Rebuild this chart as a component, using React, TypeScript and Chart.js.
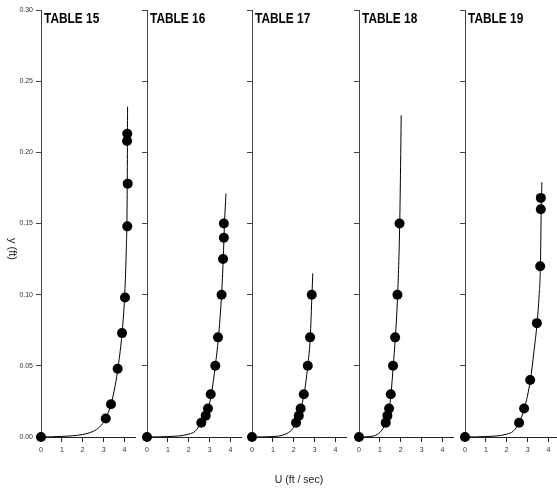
import React, { useEffect, useRef } from "react";
import { Chart, registerables } from "chart.js";

Chart.register(...registerables);

const X_TICKS = [0, 1, 2, 3, 4];
const Y_TICKS = [0, 0.05, 0.1, 0.15, 0.2, 0.25, 0.3];
const TITLES = ["TABLE 15", "TABLE 16", "TABLE 17", "TABLE 18", "TABLE 19"];

// measured points (U ft/sec, y ft)
const P15_U = [0, 3.1, 3.35, 3.67, 3.88, 4.02, 4.13, 4.15, 4.12, 4.13];
const P15_Y = [0, 0.013, 0.023, 0.048, 0.073, 0.098, 0.148, 0.178, 0.208, 0.213];
const P16_U = [0, 2.6, 2.81, 2.92, 3.05, 3.27, 3.4, 3.57, 3.64, 3.68, 3.68];
const P16_Y = [0, 0.01, 0.015, 0.02, 0.03, 0.05, 0.07, 0.1, 0.125, 0.14, 0.15];
const P17_U = [0, 2.11, 2.24, 2.33, 2.48, 2.67, 2.78, 2.86];
const P17_Y = [0, 0.01, 0.015, 0.02, 0.03, 0.05, 0.07, 0.1];
const P18_U = [0, 1.28, 1.36, 1.44, 1.52, 1.63, 1.73, 1.84, 1.94];
const P18_Y = [0, 0.01, 0.015, 0.02, 0.03, 0.05, 0.07, 0.1, 0.15];
const P19_U = [0, 2.59, 2.83, 3.12, 3.44, 3.6, 3.63, 3.63];
const P19_Y = [0, 0.01, 0.02, 0.04, 0.08, 0.12, 0.16, 0.168];

// fitted curves
const C15_U = [0, 1, 2, 2.5, 2.8, 3.1, 3.35, 3.55, 3.7, 3.88, 4.0, 4.08, 4.12, 4.135, 4.145];
const C15_Y = [0, 0.0004, 0.0018, 0.004, 0.007, 0.013, 0.023, 0.036, 0.05, 0.073, 0.098, 0.13, 0.16, 0.195, 0.232];
const C16_U = [0, 1, 2, 2.3, 2.6, 2.81, 2.95, 3.08, 3.27, 3.42, 3.57, 3.65, 3.71, 3.78];
const C16_Y = [0, 0.0003, 0.002, 0.004, 0.01, 0.015, 0.021, 0.03, 0.05, 0.07, 0.1, 0.125, 0.15, 0.171];
const C17_U = [0, 1, 1.6, 1.9, 2.11, 2.24, 2.34, 2.49, 2.67, 2.79, 2.87, 2.91];
const C17_Y = [0, 0.0003, 0.002, 0.005, 0.01, 0.015, 0.02, 0.03, 0.05, 0.07, 0.1, 0.115];
const C18_U = [0, 0.5, 0.9, 1.1, 1.28, 1.37, 1.45, 1.53, 1.64, 1.74, 1.85, 1.95, 1.99, 2.02];
const C18_Y = [0, 0.0003, 0.002, 0.005, 0.01, 0.015, 0.02, 0.03, 0.05, 0.07, 0.1, 0.15, 0.19, 0.226];
const C19_U = [0, 1, 2, 2.3, 2.59, 2.84, 3.13, 3.3, 3.45, 3.55, 3.61, 3.65, 3.68];
const C19_Y = [0, 0.0003, 0.002, 0.004, 0.01, 0.02, 0.04, 0.06, 0.08, 0.1, 0.12, 0.16, 0.179];

const PANELS = [
  { pu: P15_U, py: P15_Y, cu: C15_U, cy: C15_Y },
  { pu: P16_U, py: P16_Y, cu: C16_U, cy: C16_Y },
  { pu: P17_U, py: P17_Y, cu: C17_U, cy: C17_Y },
  { pu: P18_U, py: P18_Y, cu: C18_U, cy: C18_Y },
  { pu: P19_U, py: P19_Y, cu: C19_U, cy: C19_Y },
];

const AXIS_X = [41, 147, 252, 359, 465];
const Y_AXIS_W = 40;
const CANVAS_W = 142;
const CANVAS_H = 488;
const X_AXIS_H = 51;

const zip = (a: number[], b: number[]) => a.map((v, i) => ({ x: v, y: b[i] }));

export default function App() {
  const refs = useRef<(HTMLCanvasElement | null)[]>([]);

  useEffect(() => {
    const charts: Chart[] = [];
    PANELS.forEach((p, idx) => {
      const canvas = refs.current[idx];
      if (!canvas) return;
      const title = TITLES[idx];
      const titlePlugin = {
        id: "panelTitle" + idx,
        afterDraw(chart: any) {
          const ctx = chart.ctx;
          const a = chart.chartArea;
          ctx.save();
          ctx.fillStyle = "#000";
          ctx.font = "bold 14px 'Liberation Sans', Arial, sans-serif";
          ctx.textBaseline = "alphabetic";
          ctx.textAlign = "left";
          ctx.translate(a.left + 3, a.top + 13);
          ctx.scale(0.85, 1);
          ctx.fillText(title, 0, 0);
          ctx.restore();
        },
      };
      const c = new Chart(canvas, {
        type: "scatter",
        data: {
          datasets: [
            {
              type: "scatter",
              data: zip(p.pu, p.py),
              pointRadius: 5,
              pointHoverRadius: 5,
              backgroundColor: "#000",
              borderColor: "#000",
              borderWidth: 0,
              clip: false as any,
            },
            {
              type: "line",
              data: zip(p.cu, p.cy),
              borderColor: "#000",
              borderWidth: 1,
              pointRadius: 0,
              fill: false,
              cubicInterpolationMode: "monotone",
              clip: false as any,
            } as any,
          ],
        },
        options: {
          animation: false,
          responsive: false,
          devicePixelRatio: 1,
          layout: { padding: { left: 0, right: CANVAS_W - Y_AXIS_W - 94, top: 10, bottom: 0 } },
          plugins: { legend: { display: false }, tooltip: { enabled: false }, title: { display: false } },
          events: [],
          scales: {
            x: {
              type: "linear",
              min: 0,
              max: 4.5,
              afterBuildTicks: (s: any) => {
                s.ticks = X_TICKS.map((v) => ({ value: v }));
              },
              afterFit: (s: any) => {
                s.height = X_AXIS_H;
              },
              grid: { drawOnChartArea: false, drawTicks: true, tickLength: 5, color: "#222", lineWidth: 1 },
              border: { display: true, color: "#222", width: 1 },
              ticks: {
                color: "#333",
                padding: 4,
                maxRotation: 0,
                autoSkip: false,
                font: { size: 7, family: "'Liberation Sans', Arial, sans-serif" },
                callback: (v: any) => String(v),
              },
            },
            y: {
              type: "linear",
              min: 0,
              max: 0.3,
              afterBuildTicks: (s: any) => {
                s.ticks = Y_TICKS.map((v) => ({ value: v }));
              },
              afterFit: (s: any) => {
                s.width = Y_AXIS_W;
              },
              grid: { drawOnChartArea: false, drawTicks: true, tickLength: 5, color: "#444", lineWidth: 1 },
              border: { display: true, color: "#444", width: 1 },
              ticks: {
                color: "#333",
                padding: 3,
                autoSkip: false,
                font: { size: 7, family: "'Liberation Sans', Arial, sans-serif" },
                callback: (v: any) => (idx === 0 ? Number(v).toFixed(2) : ""),
              },
            },
          },
        },
        plugins: [titlePlugin],
      } as any);
      charts.push(c);
    });
    return () => charts.forEach((c) => c.destroy());
  }, []);

  return (
    <div style={{ position: "absolute", left: 0, top: 0, width: 557, height: 488, background: "#fff", overflow: "hidden" }}>
      {PANELS.map((_, i) => (
        <canvas
          key={i}
          ref={(el) => {
            refs.current[i] = el;
          }}
          width={CANVAS_W}
          height={CANVAS_H}
          style={{ position: "absolute", left: AXIS_X[i] - Y_AXIS_W, top: 0, width: CANVAS_W, height: CANVAS_H }}
        />
      ))}
      <div
        style={{
          position: "absolute",
          left: 299,
          top: 479,
          transform: "translate(-50%, -50%)",
          font: "10.5px 'Liberation Sans', Arial, sans-serif",
          color: "#222",
          whiteSpace: "nowrap",
        }}
      >
        U (ft / sec)
      </div>
      <div
        style={{
          position: "absolute",
          left: 13,
          top: 249,
          transform: "translate(-50%, -50%) rotate(90deg)",
          font: "11px 'Liberation Sans', Arial, sans-serif",
          color: "#222",
          whiteSpace: "nowrap",
        }}
      >
        y (ft)
      </div>
    </div>
  );
}
